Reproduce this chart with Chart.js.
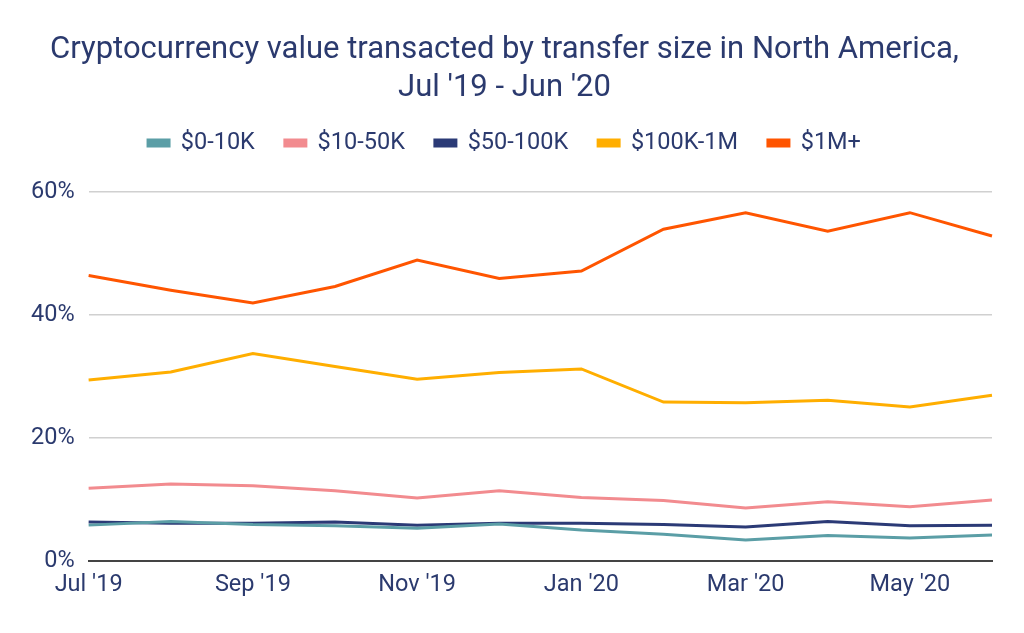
<!DOCTYPE html>
<html>
<head>
<meta charset="utf-8">
<script src="https://cdn.jsdelivr.net/npm/chart.js@4"></script>
<style>
    html, body { margin: 0; padding: 0; background: #fff; }
    #wrap { width: 1024px; height: 633px; position: relative; }
</style>
</head>
<body>
<div id="wrap"><canvas id="cryptoChart"></canvas></div>
<script>
// Chart data
const months = ["Jul '19", "Aug '19", "Sep '19", "Oct '19", "Nov '19", "Dec '19",
    "Jan '20", "Feb '20", "Mar '20", "Apr '20", "May '20", "Jun '20"];
const seriesNames = ['$0-10K', '$10-50K', '$50-100K', '$100K-1M', '$1M+'];
const small = [5.8, 6.4, 5.9, 5.7, 5.3, 6.0, 5.0, 4.3, 3.4, 4.1, 3.7, 4.2];
const lowMid = [11.8, 12.5, 12.2, 11.4, 10.2, 11.4, 10.3, 9.8, 8.6, 9.6, 8.8, 9.9];
const mid = [6.3, 6.1, 6.1, 6.3, 5.8, 6.1, 6.1, 5.9, 5.5, 6.4, 5.7, 5.8];
const large = [29.4, 30.7, 33.7, 31.6, 29.5, 30.6, 31.2, 25.8, 25.7, 26.1, 25.0, 26.9];
const huge = [46.4, 44.0, 41.9, 44.6, 48.9, 45.9, 47.1, 53.9, 56.6, 53.6, 56.6, 52.8];
const yTicks = [0, 20, 40, 60];

const colors = ['#5B9EA6', '#F28B8F', '#2B3A76', '#FFAE00', '#FF5500'];
const textColor = '#2B3A6E';
const fontFamily = 'Roboto, "Noto Sans", sans-serif';

const allSeries = [small, lowMid, mid, large, huge];

// Build datasets
const datasets = allSeries.map((values, i) => ({
    label: seriesNames[i],
    data: values,
    borderColor: colors[i],
    backgroundColor: colors[i],
    borderWidth: 3,
    pointRadius: 0,
    tension: 0,
    fill: false
}));

// mid bracket draws on top of the small one
const order = [1, 2, 0, 3, 4];
datasets.forEach((d, i) => { d.order = 5 - order[i]; });

// Extra room under the legend
const legendGap = {
    id: 'legendGap',
    beforeInit(chart) {
        const fit = chart.legend.fit;
        chart.legend.fit = function() {
            fit.call(this);
            this.height += 27;
        };
    }
};

new Chart(document.getElementById('cryptoChart').getContext('2d'), {
    type: 'line',
    data: {
        labels: months,
        datasets: datasets
    },
    plugins: [legendGap],
    options: {
        responsive: true,
        maintainAspectRatio: false,
        animation: false,
        layout: {
            padding: { left: 17, right: 32, top: 31, bottom: 32 }
        },
        plugins: {
            title: {
                display: true,
                text: ['Cryptocurrency value transacted by transfer size in North America,', "Jul '19 - Jun '20"],
                color: textColor,
                font: { family: fontFamily, size: 31, weight: 'normal', lineHeight: 1.23 },
                padding: { top: 0, bottom: -6 }
            },
            legend: {
                position: 'top',
                labels: {
                    color: textColor,
                    font: { family: fontFamily, size: 23.5 },
                    boxWidth: 21,
                    boxHeight: 6,
                    padding: 30,
                    sort: (a, b) => a.datasetIndex - b.datasetIndex
                }
            },
            tooltip: { enabled: false }
        },
        scales: {
            x: {
                grid: { display: false },
                border: { display: true, color: '#444', width: 2 },
                ticks: {
                    color: textColor,
                    font: { family: fontFamily, size: 23.5 },
                    autoSkip: false,
                    maxRotation: 0,
                    padding: 2,
                    callback: function(value, index) {
                        return index % 2 === 0 ? months[index] : '';
                    }
                }
            },
            y: {
                min: 0,
                max: 60,
                afterBuildTicks: axis => { axis.ticks = yTicks.map(v => ({ value: v })); },
                grid: { color: '#D0D0D0', lineWidth: 1.5, drawTicks: false },
                border: { display: false },
                ticks: {
                    color: textColor,
                    font: { family: fontFamily, size: 23.5 },
                    padding: 14,
                    callback: value => value + '%'
                }
            }
        }
    }
});
</script>
</body>
</html>
